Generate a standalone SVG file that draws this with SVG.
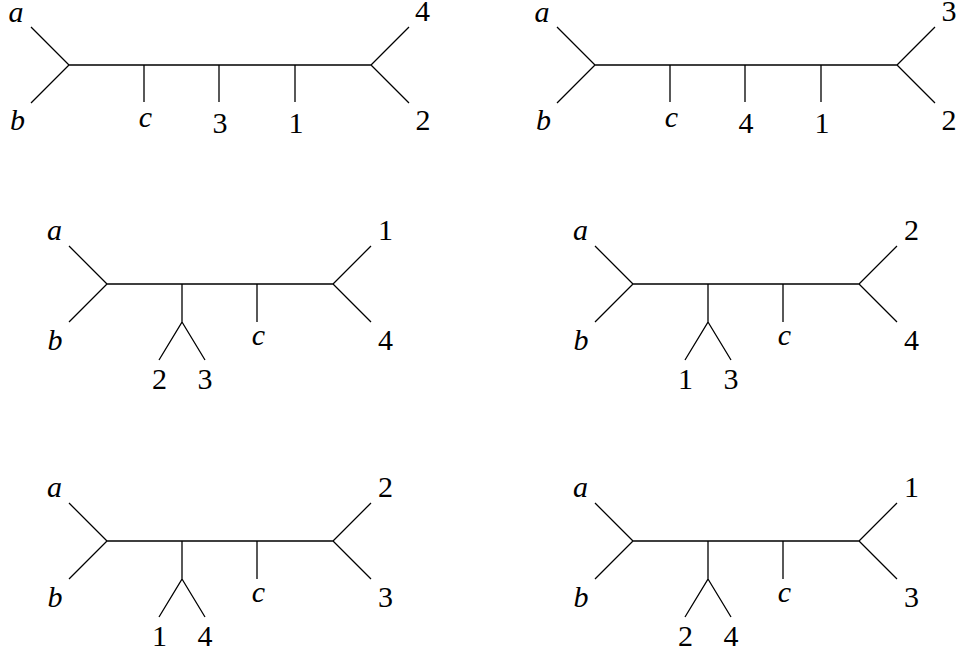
<svg xmlns="http://www.w3.org/2000/svg" width="956" height="655" viewBox="0 0 956 655">
<style>
.e{fill:none;stroke:#000;stroke-width:1.3;stroke-linecap:butt;stroke-linejoin:miter}
.t{font-family:'Liberation Serif','Times New Roman','DejaVu Serif',serif;font-size:30px;fill:#000;text-anchor:middle}
.i{font-style:italic}
</style>
<rect width="956" height="655" fill="#fff"/>
<g id="tree1" class="t" font-family="Liberation Serif, Times New Roman, serif">
<g class="connectors"><path class="e" d="M31,27 L69,65 L31,103 M69,65 H371 M409,27 L371,65 L409,103 M144,65 V102 M219,65 V102 M295,65 V102"/></g>
<g id="t1-a"><text class="i" x="16" y="22">a</text></g>
<g id="t1-b"><text class="i" x="17.5" y="130">b</text></g>
<g id="t1-c"><text class="i" x="145.5" y="127">c</text></g>
<g id="t1-3"><text x="220" y="133">3</text></g>
<g id="t1-1"><text x="296" y="133">1</text></g>
<g id="t1-4"><text x="422.5" y="21">4</text></g>
<g id="t1-2"><text x="423" y="130">2</text></g>
</g>
<g id="tree2" class="t" font-family="Liberation Serif, Times New Roman, serif" transform="translate(526,0)">
<g class="connectors"><path class="e" d="M31,27 L69,65 L31,103 M69,65 H371 M409,27 L371,65 L409,103 M144,65 V102 M219,65 V102 M295,65 V102"/></g>
<g id="t2-a"><text class="i" x="16" y="22">a</text></g>
<g id="t2-b"><text class="i" x="17.5" y="130">b</text></g>
<g id="t2-c"><text class="i" x="145.5" y="127">c</text></g>
<g id="t2-4"><text x="220" y="133">4</text></g>
<g id="t2-1"><text x="296" y="133">1</text></g>
<g id="t2-3"><text x="423" y="21">3</text></g>
<g id="t2-2"><text x="423" y="130">2</text></g>
</g>
<g id="tree3" class="t" font-family="Liberation Serif, Times New Roman, serif" transform="translate(0,284)">
<g class="connectors"><path class="e" d="M69,-38 L107,0 L69,38 M107,0 H333 M371,-38 L333,0 L371,38 M182,0 V38 L159,76 M182,38 L205,76 M257,0 V38"/></g>
<g id="t3-a"><text class="i" x="54.5" y="-44">a</text></g>
<g id="t3-b"><text class="i" x="55" y="66">b</text></g>
<g id="t3-c"><text class="i" x="258.5" y="61">c</text></g>
<g id="t3-2"><text x="159.5" y="105">2</text></g>
<g id="t3-3"><text x="205" y="105">3</text></g>
<g id="t3-1"><text x="385.5" y="-44">1</text></g>
<g id="t3-4"><text x="385.5" y="66">4</text></g>
</g>
<g id="tree4" class="t" font-family="Liberation Serif, Times New Roman, serif" transform="translate(526,284)">
<g class="connectors"><path class="e" d="M69,-38 L107,0 L69,38 M107,0 H333 M371,-38 L333,0 L371,38 M182,0 V38 L159,76 M182,38 L205,76 M257,0 V38"/></g>
<g id="t4-a"><text class="i" x="54.5" y="-44">a</text></g>
<g id="t4-b"><text class="i" x="55" y="66">b</text></g>
<g id="t4-c"><text class="i" x="258.5" y="61">c</text></g>
<g id="t4-1"><text x="159.5" y="105">1</text></g>
<g id="t4-3"><text x="205" y="105">3</text></g>
<g id="t4-2"><text x="385.5" y="-44">2</text></g>
<g id="t4-4"><text x="385.5" y="66">4</text></g>
</g>
<g id="tree5" class="t" font-family="Liberation Serif, Times New Roman, serif" transform="translate(0,541)">
<g class="connectors"><path class="e" d="M69,-38 L107,0 L69,38 M107,0 H333 M371,-38 L333,0 L371,38 M182,0 V38 L159,76 M182,38 L205,76 M257,0 V38"/></g>
<g id="t5-a"><text class="i" x="54.5" y="-44">a</text></g>
<g id="t5-b"><text class="i" x="55" y="66">b</text></g>
<g id="t5-c"><text class="i" x="258.5" y="61">c</text></g>
<g id="t5-1"><text x="159.5" y="105">1</text></g>
<g id="t5-4"><text x="205" y="105">4</text></g>
<g id="t5-2"><text x="385.5" y="-44">2</text></g>
<g id="t5-3"><text x="385.5" y="66">3</text></g>
</g>
<g id="tree6" class="t" font-family="Liberation Serif, Times New Roman, serif" transform="translate(526,541)">
<g class="connectors"><path class="e" d="M69,-38 L107,0 L69,38 M107,0 H333 M371,-38 L333,0 L371,38 M182,0 V38 L159,76 M182,38 L205,76 M257,0 V38"/></g>
<g id="t6-a"><text class="i" x="54.5" y="-44">a</text></g>
<g id="t6-b"><text class="i" x="55" y="66">b</text></g>
<g id="t6-c"><text class="i" x="258.5" y="61">c</text></g>
<g id="t6-2"><text x="159.5" y="105">2</text></g>
<g id="t6-4"><text x="205" y="105">4</text></g>
<g id="t6-1"><text x="385.5" y="-44">1</text></g>
<g id="t6-3"><text x="385.5" y="66">3</text></g>
</g>
</svg>
